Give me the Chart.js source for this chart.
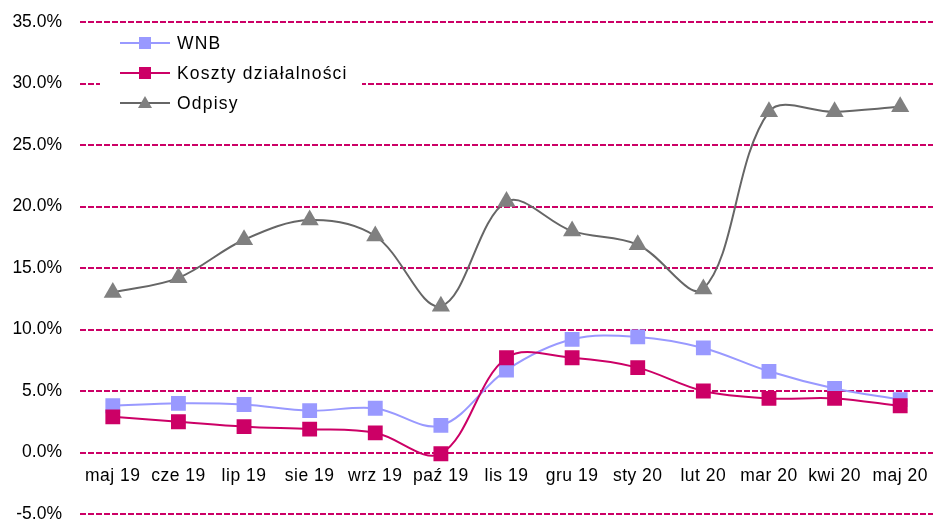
<!DOCTYPE html>
<html>
<head>
<meta charset="utf-8">
<script src="https://cdn.jsdelivr.net/npm/chart.js@4.4.1/dist/chart.umd.min.js"></script>
<style>
html,body{margin:0;padding:0;background:#fff;}
#wrap{width:933px;height:522px;position:relative;}
</style>
</head>
<body>
<div id="wrap"><canvas id="c" width="933" height="522"></canvas></div>
<script>
const categories = ['maj 19','cze 19','lip 19','sie 19','wrz 19','paź 19','lis 19','gru 19','sty 20','lut 20','mar 20','kwi 20','maj 20'];
const wnb = [3.8, 4.0, 3.9, 3.4, 3.6, 2.2, 6.7, 9.2, 9.4, 8.5, 6.6, 5.2, 4.3];
const koszty = [2.9, 2.5, 2.1, 1.9, 1.6, -0.1, 7.7, 7.7, 6.9, 5.0, 4.4, 4.4, 3.8];
const odpisy = [13.0, 14.2, 17.3, 18.9, 17.6, 11.9, 20.4, 18.0, 16.9, 13.3, 27.7, 27.7, 28.1];
const seriesNames = ['WNB', 'Koszty działalności', 'Odpisy'];
const yTicks = [-5, 0, 5, 10, 15, 20, 25, 30, 35];

const FONT = 'Liberation Sans, Arial, sans-serif';
const colWnb = '#9999FF', colKoszty = '#CC0066', colOdpisy = '#808080', colOdpisyLine = '#666666';

// category labels drawn next to the zero line (axis crosses at 0)
const zeroAxisLabels = {
  id: 'zeroAxisLabels',
  afterDraw(chart) {
    const ctx = chart.ctx, xs = chart.scales.x, ys = chart.scales.y;
    const y0 = ys.getPixelForValue(0);
    ctx.save();
    ctx.fillStyle = '#000';
    ctx.font = '17.5px ' + FONT;
    ctx.letterSpacing = '0.5px';
    ctx.textAlign = 'center';
    ctx.textBaseline = 'middle';
    categories.forEach((c, i) => ctx.fillText(c, xs.getPixelForValue(i), y0 + 24));
    ctx.restore();
  }
};

const legendPlugin = {
  id: 'innerLegend',
  afterDraw(chart) {
    const ctx = chart.ctx;
    ctx.save();
    ctx.fillStyle = '#ffffff';
    ctx.fillRect(100, 30, 262, 88);
    const items = chart.data.datasets.slice().sort((a,b)=>a.legendIndex-b.legendIndex);
    items.forEach((ds, i) => {
      const y = 43 + i * 30;
      ctx.strokeStyle = ds.borderColor;
      ctx.lineWidth = 2;
      ctx.beginPath();
      ctx.moveTo(120, y);
      ctx.lineTo(170, y);
      ctx.stroke();
      ctx.fillStyle = ds.pointBackgroundColor;
      if (ds.pointStyle === 'rect') {
        ctx.fillRect(139, y - 6, 12, 12);
      } else {
        ctx.beginPath();
        ctx.moveTo(145, y - 7);
        ctx.lineTo(152, y + 5);
        ctx.lineTo(138, y + 5);
        ctx.closePath();
        ctx.fill();
      }
      ctx.fillStyle = '#000';
      ctx.font = '17.5px ' + FONT;
      ctx.letterSpacing = '1.2px';
      ctx.textBaseline = 'middle';
      ctx.textAlign = 'left';
      ctx.fillText(ds.label, 177, y + 1);
    });
    ctx.restore();
  }
};

new Chart(document.getElementById('c'), {
  type: 'line',
  data: {
    labels: categories,
    datasets: [
      { label: seriesNames[0], legendIndex: 0, order: 2, data: wnb, borderColor: colWnb, backgroundColor: colWnb, pointBackgroundColor: colWnb,
        pointStyle: 'rect', pointRadius: 10.5, pointBorderWidth: 0, borderWidth: 2, tension: 0.35 },
      { label: seriesNames[1], legendIndex: 1, order: 1, data: koszty, borderColor: colKoszty, backgroundColor: colKoszty, pointBackgroundColor: colKoszty,
        pointStyle: 'rect', pointRadius: 10.5, pointBorderWidth: 0, borderWidth: 2, tension: 0.35 },
      { label: seriesNames[2], legendIndex: 2, order: 3, data: odpisy, borderColor: colOdpisyLine, backgroundColor: colOdpisy, pointBackgroundColor: colOdpisy,
        pointStyle: 'triangle', pointRadius: 10.5, pointBorderWidth: 0, borderWidth: 2, tension: 0.35 }
    ]
  },
  options: {
    responsive: false,
    animation: false,
    layout: { autoPadding: false, padding: { top: 22, right: 0, bottom: 8, left: 0 } },
    plugins: { legend: { display: false }, tooltip: { enabled: false } },
    scales: {
      x: {
        type: 'category',
        offset: true,
        display: false
      },
      y: {
        min: -5, max: 35,
        afterBuildTicks(scale) { scale.ticks = yTicks.map(v => ({ value: v })); },
        afterFit(scale) { scale.width = 80; scale.paddingTop = 0; scale.paddingBottom = 0; },
        grid: { color: '#CC0066', lineWidth: 2, drawTicks: false },
        border: { display: false, dash: [6, 2] },
        ticks: { color: '#000', font: { family: FONT, size: 17.5 }, padding: 18,
          callback: v => v.toFixed(1) + '%' }
      }
    }
  },
  plugins: [zeroAxisLabels, legendPlugin]
});
</script>
</body>
</html>
